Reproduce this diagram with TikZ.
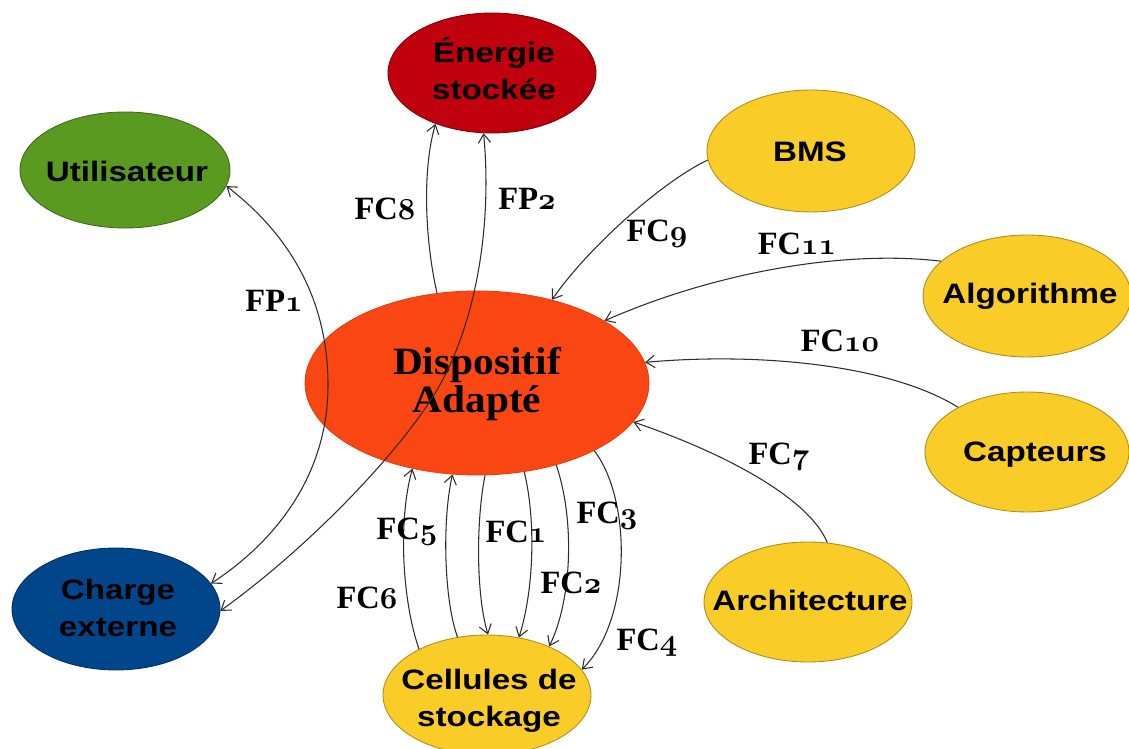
\documentclass[tikz,border=0pt]{standalone}
\usepackage{fontspec}
\usetikzlibrary{shapes.geometric,arrows.meta}
\newfontfamily\nodefont{Liberation Sans}
\newfontfamily\labfont{Liberation Serif}
\definecolor{enercol}{RGB}{192,0,12}
\definecolor{usercol}{RGB}{90,154,32}
\definecolor{chargecol}{RGB}{1,70,139}
\definecolor{dispcol}{RGB}{250,70,18}
\definecolor{yelcol}{RGB}{250,204,40}
\definecolor{linecol}{RGB}{45,45,45}
\newcommand{\osn}[1]{{\usefont{OML}{cmm}{b}{it}#1}}
\newcommand{\wide}[1]{\scalebox{1.18}[1]{#1}}
\newcommand{\dwide}[1]{\scalebox{1.07}[1]{#1}}
\tikzset{
  blob/.style={ellipse, inner sep=0pt, line width=0.5pt},
  yblob/.style={blob, fill=yelcol, draw=yelcol!70!black, minimum width=4.16cm, minimum height=2.4cm},
  ntext/.style={inner sep=0pt, align=center, text=black, font=\nodefont\bfseries\fontsize{16}{21}\selectfont},
  dtext/.style={inner sep=0pt, align=center, text=black, font=\labfont\bfseries\fontsize{22}{22}\selectfont},
  lab/.style={inner sep=0pt, anchor=base, text=black, font=\labfont\bfseries\fontsize{18.5}{20}\selectfont},
  conn/.style={draw=linecol, line width=0.6pt}
}
\begin{document}
\begin{tikzpicture}[x=0.02cm, y=-0.02cm, >={Straight Barb[length=5pt,width=7pt]}]
\path[use as bounding box, fill=white] (0,0) rectangle (1129,749);

% ellipses
\node[blob, fill=enercol, draw=enercol!70!black, minimum width=4.16cm, minimum height=2.4cm] (ener) at (492,73) {};
\node[blob, fill=usercol, draw=usercol!70!black, minimum width=4.2cm, minimum height=2.32cm] (util) at (125,170) {};
\node[blob, fill=chargecol, draw=chargecol!70!black, minimum width=4.16cm, minimum height=2.44cm] (charge) at (116,609) {};
\node[blob, fill=dispcol, draw=dispcol!90!black, minimum width=6.88cm, minimum height=3.68cm] (disp) at (477,383) {};
\node[yblob, minimum height=2.44cm] (bms) at (811,151) {};
\node[yblob, minimum height=2.44cm] (alg) at (1027,296) {};
\node[yblob, minimum width=4.08cm] (capt) at (1027,452) {};
\node[yblob] (arch) at (808,602) {};
\node[yblob] (cell) at (487,695) {};

% texts
\node[ntext] (enert) at (494,69) {\wide{Énergie}\\\wide{stockée}};
\node[ntext] (utilt) at (127,171) {\wide{Utilisateur}};
\node[ntext] (charget) at (118,608) {\wide{Charge}\\\wide{externe}};
\node[dtext] (dispt) at (477,384) {\dwide{Dispositif}\\\dwide{Adapté}};
\node[ntext] (bmst) at (810,152) {\wide{BMS}};
\node[ntext] (algt) at (1030,296) {\wide{Algorithme}};
\node[ntext] (captt) at (1035,455) {\wide{Capteurs}};
\node[ntext] (archt) at (810,600) {\wide{Architecture}};
\node[ntext] (cellt) at (489,701) {\wide{Cellules de}\\\wide{stockage}};

% connectors
\draw[conn,<->] (util.-9) .. controls (290,235) and (328,300) .. (328,385) .. controls (328,480) and (270,545) .. (charge.15);
\draw[conn,<->] (ener.-98) .. controls (492,220) and (478,320) .. (437,390) .. controls (404,446) and (316,542) .. (charge.-1);
\draw[conn,->] (disp.114) .. controls (425,240) and (422,170) .. (ener.-138);
\draw[conn,->] (bms.185) .. controls (665,180) and (590,245) .. (disp.48.5);
\draw[conn,->] (alg.158) .. controls (850,250) and (720,270) .. (disp.26);
\draw[conn,->] (capt.147) .. controls (890,365) and (760,352) .. (disp.7);
\draw[conn,->] (arch.72) .. controls (810,500) and (730,455) .. (disp.-14);
\draw[conn,->] (cell.146) .. controls (402,600) and (398,520) .. (disp.-127);
\draw[conn,->] (cell.117) .. controls (444,600) and (442,520) .. (disp.-105);
\draw[conn,->] (disp.-85) .. controls (476,520) and (476,595) .. (cell.89);
\draw[conn,->] (disp.-62) .. controls (536,520) and (534,590) .. (cell.61);
\draw[conn,->] (disp.-46) .. controls (575,520) and (572,600) .. (cell.38);
\draw[conn,->] (disp.-30) .. controls (632,500) and (632,620) .. (cell.15);

% labels
\node[lab] (lfp1) at (274,312) {FP\osn{1}};
\node[lab] (lfc8) at (385,220) {FC\osn{8}};
\node[lab] (lfp2) at (527,210) {FP\osn{2}};
\node[lab] (lfc9) at (657,242) {FC\osn{9}};
\node[lab] (lfc11) at (797,255) {FC\osn{11}};
\node[lab] (lfc10) at (840,352) {FC\osn{10}};
\node[lab] (lfc7) at (779,465) {FC\osn{7}};
\node[lab] (lfc3) at (607,523) {FC\osn{3}};
\node[lab] (lfc5) at (407,540) {FC\osn{5}};
\node[lab] (lfc1) at (516,542) {FC\osn{1}};
\node[lab] (lfc6) at (367,608) {FC\osn{6}};
\node[lab] (lfc2) at (571,593) {FC\osn{2}};
\node[lab] (lfc4) at (647,650) {FC\osn{4}};
\end{tikzpicture}
\end{document}
